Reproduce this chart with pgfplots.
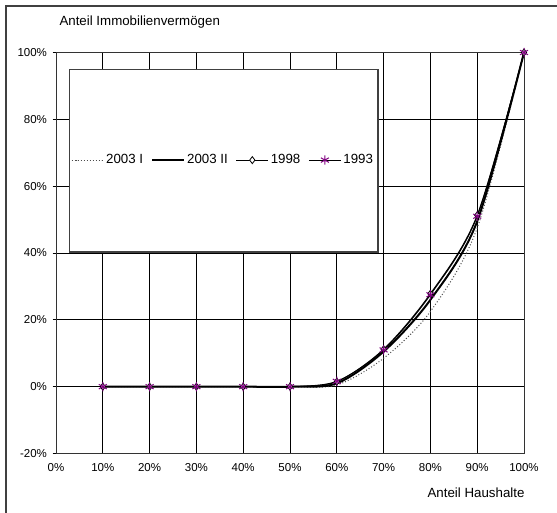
\documentclass[border=0pt]{standalone}
\usepackage{pgfplots}
\pgfplotsset{compat=1.18}
\usepackage{fontspec}
\setmainfont{Liberation Sans}
\definecolor{starpurple}{RGB}{128,0,128}

\begin{document}
\begin{tikzpicture}
\useasboundingbox (-56pt,-59.5pt) rectangle (501pt,453.5pt);
% outer chart frame (cut by the picture on the right and at the bottom)
\draw[line width=1.2pt, black!75] (-50pt,-70pt) -- (-50pt,447.5pt) -- (520pt,447.5pt);
\begin{axis}[
    at={(0pt,0pt)}, anchor=south west,
    scale only axis,
    width=468pt, height=401pt,
    xmin=0, xmax=100, ymin=-20, ymax=100,
    xtick={0,10,...,100},
    xticklabels={0\%,10\%,20\%,30\%,40\%,50\%,60\%,70\%,80\%,90\%,100\%},
    ytick={-20,0,20,40,60,80,100},
    yticklabels={-20\%,0\%,20\%,40\%,60\%,80\%,100\%},
    xtick align=inside, ytick align=outside,
    xtick pos=bottom, ytick pos=left,
    major tick length=3.5pt,
    tick style={black, line width=0.8pt},
    grid=major,
    grid style={black, line width=0.8pt},
    axis line style={black!80, line width=0.9pt},
    tick label style={font=\fontsize{11.5}{13}\selectfont},
    x tick label style={yshift=-6pt},
    y tick label style={xshift=-2pt},
    xlabel={Anteil Haushalte},
    ylabel={Anteil Immobilienverm\"ogen},
    every axis x label/.style={at={(axis description cs:1,0)}, anchor=east,
        xshift=4pt, yshift=-39.5pt, font=\fontsize{13.3}{15}\selectfont},
    every axis y label/.style={at={(axis description cs:0,1)}, anchor=west,
        yshift=30pt, font=\fontsize{13.3}{15}\selectfont},
    legend columns=4,
    legend style={draw=none, fill=none, at={(axis cs:35.7,67.8)}, anchor=center,
        font=\fontsize{13.3}{15}\selectfont,
        /tikz/every even column/.append style={column sep=6pt}},
    legend image code/.code={\draw[mark repeat=2,mark phase=2,#1]
        plot coordinates {(0pt,0pt) (16pt,0pt) (32pt,0pt)};},
]
% legend box
\filldraw[fill=white, draw=black!75, line width=1.2pt] (axis cs:2.8,40.3) rectangle (axis cs:68.8,94.8);

\addplot[black!70, dotted, line width=1pt, smooth] coordinates {
    (10,0) (20,0) (30,0) (40,0) (50,0) (60,0.5) (70,8.5) (80,22.5) (90,47.5) (100,100)
};
\addlegendentry{2003 I}
\addplot[black, line width=2pt, smooth] coordinates {
    (10,0) (20,0) (30,0) (40,0) (50,0) (60,1) (70,10.5) (80,26) (90,49.5) (100,100)
};
\addlegendentry{2003 II}
\addplot[black, line width=1pt, smooth, mark=diamond*, mark size=3.5pt,
    mark options={fill=white, draw=black, line width=0.8pt}] coordinates {
    (10,0) (20,0) (30,0) (40,0) (50,0) (60,1.5) (70,11.2) (80,27.8) (90,51.3) (100,100)
};
\addlegendentry{1998}
\addplot[black, line width=1pt, smooth, mark=asterisk, mark size=4.6pt,
    mark options={draw=starpurple, line width=1pt}] coordinates {
    (10,0) (20,0) (30,0) (40,0) (50,0) (60,1.6) (70,11) (80,27.5) (90,51) (100,100)
};
\addlegendentry{1993}
\end{axis}
\end{tikzpicture}
\end{document}
